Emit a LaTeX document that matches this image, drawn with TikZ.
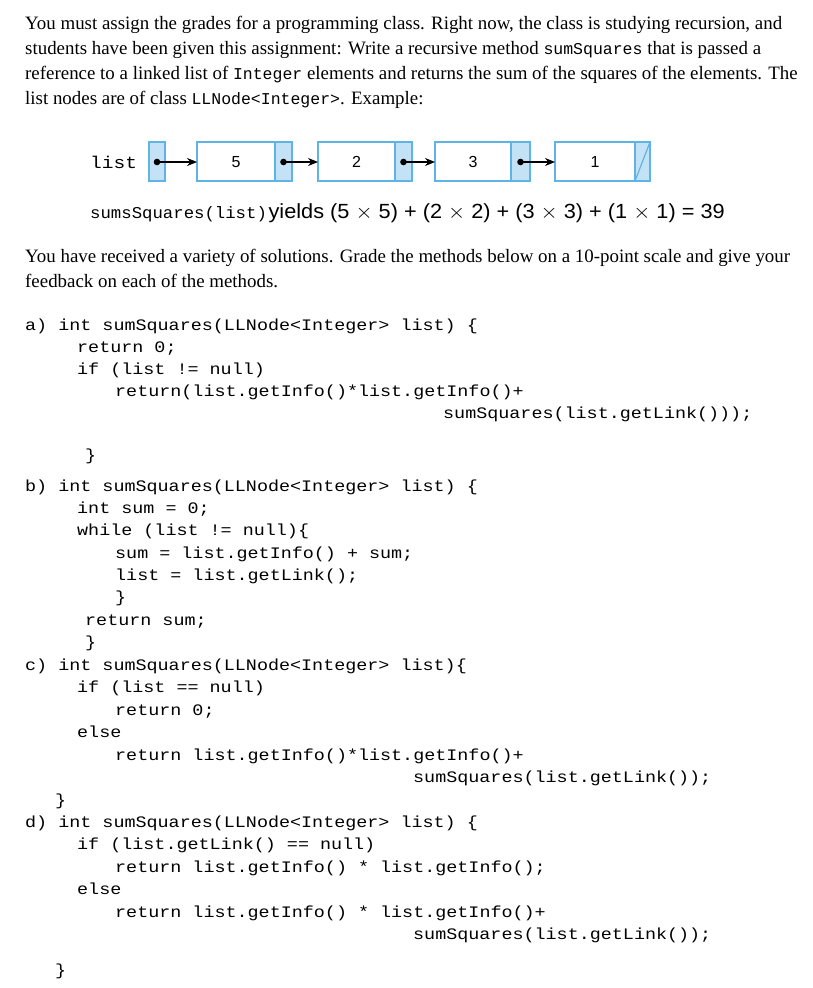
\documentclass[tikz,border=0pt]{standalone}
\usepackage{fontspec}
\setmainfont{Liberation Serif}
\setmonofont{Liberation Mono}
\newfontfamily\sansf{Liberation Sans}
\usetikzlibrary{arrows.meta}
\definecolor{bfill}{RGB}{196,226,245}
\definecolor{bdraw}{RGB}{95,180,230}
\newcommand{\cl}[1]{\scalebox{1.15}[1]{\fontsize{16}{16}\selectfont\ttfamily #1}}
\newcommand{\im}[1]{{\fontsize{16.5}{16}\selectfont\ttfamily #1}}
\begin{document}
\begin{tikzpicture}[x=1pt,y=-1pt,
  txt/.style={anchor=base west,inner sep=0pt,font=\fontsize{18.9}{22}\selectfont},
  code/.style={anchor=base west,inner sep=0pt},
  info/.style={draw=bdraw,line width=1.2pt,fill=white},
  lnk/.style={draw=bdraw,line width=1.2pt,fill=bfill},
  ptr/.style={-{Stealth[length=10pt,width=8pt]},line width=1.1pt}]
\useasboundingbox (0,0) rectangle (812,988);
\node[txt] (p1) at (25,29) {You must assign the grades for a programming class. Right now, the class is studying recursion, and};
\node[txt] (p2) at (25,54) {students have been given this assignment: Write a recursive method \im{sumSquares} that is passed a};
\node[txt] (p3) at (25,79) {reference to a linked list of \im{Integer} elements and returns the sum of the squares of the elements. The};
\node[txt] (p4) at (25,104) {list nodes are of class \im{LLNode<Integer>}. Example:};
% linked list
\node[code] (lst) at (90,168) {\scalebox{1.15}[1]{\fontsize{17}{17}\selectfont\ttfamily list}};
\draw[lnk] (149,142) rectangle (165,181);
\foreach \a/\b/\c/\v [count=\i] in {197/275/292/5,318/395/412/2,435/511/530/3,555/635/650/1}{
  \draw[info] (\a,142) rectangle (\b,181);
  \draw[lnk] (\b,142) rectangle (\c,181);
  \node[font=\sansf\fontsize{16}{16}\selectfont] (n\i) at ({(\a+\b)/2},162) {\v};
}
\draw[bdraw,line width=1.2pt] (635,181) -- (650,142);
\coordinate (s0) at (157,162); \coordinate (e0) at (197,162);
\coordinate (s1) at (283.5,162); \coordinate (e1) at (318,162);
\coordinate (s2) at (403.5,162); \coordinate (e2) at (435,162);
\coordinate (s3) at (520.5,162); \coordinate (e3) at (555,162);
\foreach \i in {0,1,2,3}{
  \fill (s\i) circle (3.3pt);
  \draw[ptr] (s\i) -- (e\i);
}
\node[code] (yl) at (90,218) {\scalebox{1.05}[1]{\fontsize{16.5}{16}\selectfont\ttfamily sumsSquares(list)}\,\sansf\scalebox{1.06}[1]{\fontsize{20.5}{20}\selectfont yields (5 $\times$ 5) + (2 $\times$ 2) + (3 $\times$ 3) + (1 $\times$ 1) = 39}};
\node[txt] (q1) at (25,262) {You have received a variety of solutions. Grade the methods below on a 10-point scale and give your};
\node[txt] (q2) at (25,287) {feedback on each of the methods.};
% code
\node[code] (a1) at (25,330) {\cl{a) int sumSquares(LLNode<Integer> list) \{}};
\node[code] (a2) at (77,352) {\cl{return 0;}};
\node[code] (a3) at (77,374) {\cl{if (list != null)}};
\node[code] (a4) at (115,396) {\cl{return(list.getInfo()*list.getInfo()+}};
\node[code] (a5) at (443,418) {\cl{sumSquares(list.getLink()));}};
\node[code] (a6) at (85,460) {\cl{\}}};
\node[code] (b1) at (25,491) {\cl{b) int sumSquares(LLNode<Integer> list) \{}};
\node[code] (b2) at (77,513) {\cl{int sum = 0;}};
\node[code] (b3) at (77,535) {\cl{while (list != null)\{}};
\node[code] (b4) at (115,558) {\cl{sum = list.getInfo() + sum;}};
\node[code] (b5) at (115,580) {\cl{list = list.getLink();}};
\node[code] (b6) at (115,602) {\cl{\}}};
\node[code] (b7) at (85,625) {\cl{return sum;}};
\node[code] (b8) at (85,647) {\cl{\}}};
\node[code] (c1) at (25,670) {\cl{c) int sumSquares(LLNode<Integer> list)\{}};
\node[code] (c2) at (77,692) {\cl{if (list == null)}};
\node[code] (c3) at (115,715) {\cl{return 0;}};
\node[code] (c4) at (77,737) {\cl{else}};
\node[code] (c5) at (115,760) {\cl{return list.getInfo()*list.getInfo()+}};
\node[code] (c6) at (413,782) {\cl{sumSquares(list.getLink());}};
\node[code] (c7) at (55,805) {\cl{\}}};
\node[code] (d1) at (25,827) {\cl{d) int sumSquares(LLNode<Integer> list) \{}};
\node[code] (d2) at (77,849) {\cl{if (list.getLink() == null)}};
\node[code] (d3) at (115,872) {\cl{return list.getInfo() * list.getInfo();}};
\node[code] (d4) at (77,894) {\cl{else}};
\node[code] (d5) at (115,917) {\cl{return list.getInfo() * list.getInfo()+}};
\node[code] (d6) at (413,939) {\cl{sumSquares(list.getLink());}};
\node[code] (d7) at (55,975) {\cl{\}}};
\end{tikzpicture}
\end{document}
